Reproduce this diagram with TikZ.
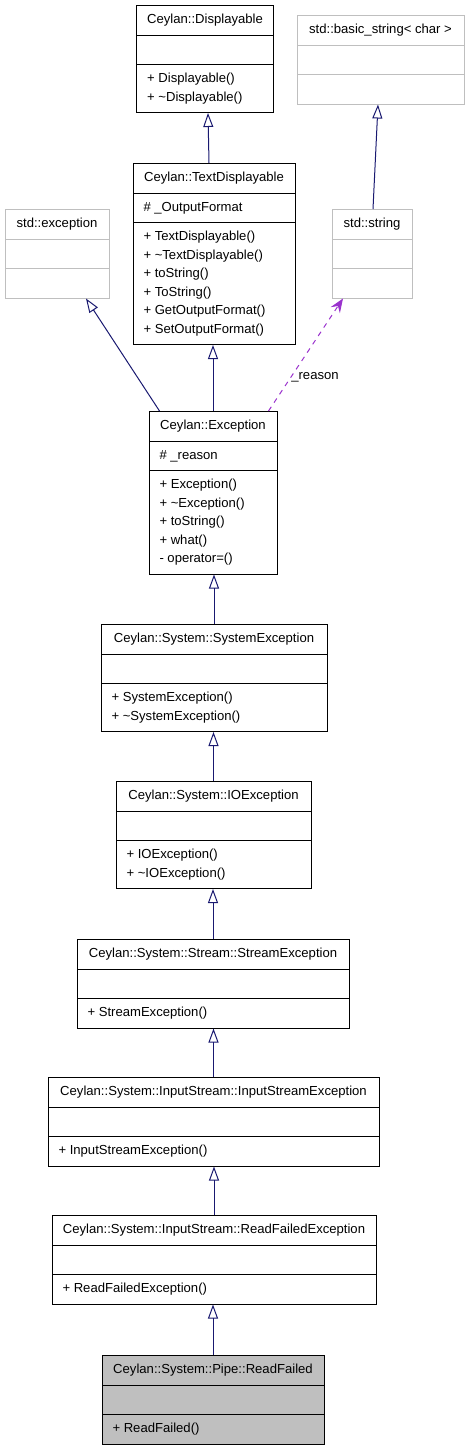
\documentclass[tikz,border=0pt]{standalone}
\usepackage{fontspec}
\setmainfont{Liberation Sans}
\usetikzlibrary{shapes.multipart,arrows.meta}
\definecolor{dxgray}{HTML}{BFBFBF}
\definecolor{dxblue}{HTML}{191970}
\definecolor{dxpurple}{HTML}{9A32CD}

\begin{document}
\begin{tikzpicture}[x=1pt,y=-1pt,font=\fontsize{13.1}{18.5}\selectfont,
 cls/.style={draw,line width=1pt,rectangle split,rectangle split parts=3,
  rectangle split part align={center,left,left},align=left,anchor=north,
  inner xsep=10.5pt,inner ysep=5pt},
 ext/.style={cls,draw=dxgray},
 inherit/.style={-{Triangle[open,length=14pt,width=10pt]},dxblue,line width=1pt},
 usage/.style={-{Stealth[length=14pt,width=11pt,inset=5pt]},dxpurple,line width=1pt,
  dash pattern=on 5pt off 5pt}]
 \useasboundingbox (0,0) rectangle (468,1448);

 % base classes
 \node[cls,minimum width=136pt] (displayable) at (205,5)
  {\strut Ceylan::Displayable\nodepart{second}\strut
   \nodepart{third}\strut+ Displayable()\\+ \textasciitilde Displayable()\strut};
 \node[ext,minimum width=167pt] (basicstr) at (380.5,15)
  {\strut std::basic\_string< char >\nodepart{second}\strut\nodepart{third}\strut};
 \node[cls,minimum width=162pt] (textdisp) at (214,163)
  {\strut Ceylan::TextDisplayable\nodepart{second}\strut\# \_OutputFormat
   \nodepart{third}\strut+ TextDisplayable()\\+ \textasciitilde TextDisplayable()\\+ toString()\\
   + ToString()\\+ GetOutputFormat()\\+ SetOutputFormat()\strut};
 \node[ext,minimum width=104pt] (stdexc) at (57,209)
  {\strut std::exception\nodepart{second}\strut\nodepart{third}\strut};
 \node[ext,minimum width=80pt] (stdstr) at (372,209)
  {\strut std::string\nodepart{second}\strut\nodepart{third}\strut};

 % exception chain
 \node[cls,minimum width=128pt] (exc) at (213,411)
  {\strut Ceylan::Exception\nodepart{second}\strut\# \_reason
   \nodepart{third}\strut+ Exception()\\+ \textasciitilde Exception()\\+ toString()\\
   + what()\\- operator=()\strut};
 \node[cls,minimum width=226pt] (sysexc) at (214,624)
  {\strut Ceylan::System::SystemException\nodepart{second}\strut
   \nodepart{third}\strut+ SystemException()\\+ \textasciitilde SystemException()\strut};
 \node[cls,minimum width=195pt] (ioexc) at (213.5,781)
  {\strut Ceylan::System::IOException\nodepart{second}\strut
   \nodepart{third}\strut+ IOException()\\+ \textasciitilde IOException()\strut};
 \node[cls,minimum width=272pt] (streamexc) at (213,939)
  {\strut Ceylan::System::Stream::StreamException\nodepart{second}\strut
   \nodepart{third}\strut+ StreamException()};
 \node[cls,minimum width=331pt] (instreamexc) at (213.5,1077)
  {\strut Ceylan::System::InputStream::InputStreamException\nodepart{second}\strut
   \nodepart{third}\strut+ InputStreamException()};
 \node[cls,minimum width=324pt] (rfexc) at (214,1215)
  {\strut Ceylan::System::InputStream::ReadFailedException\nodepart{second}\strut
   \nodepart{third}\strut+ ReadFailedException()};
 \node[cls,minimum width=222pt,fill=dxgray] (readfailed) at (213,1355)
  {\strut Ceylan::System::Pipe::ReadFailed\nodepart{second}\strut
   \nodepart{third}\strut+ ReadFailed()};

 \path[inherit]
 ([xshift=-5pt]textdisp.north) edge ([xshift=3pt]displayable.south)
 ([xshift=1pt]stdstr.north) edge ([xshift=-2.5pt]basicstr.south)
 ([xshift=11pt]exc.north west) edge ([xshift=29pt]stdexc.south)
 (exc.north) edge (exc.north |- textdisp.south)
 (sysexc.north) edge (sysexc.north |- exc.south)
 (ioexc.north) edge (ioexc.north |- sysexc.south)
 (streamexc.north) edge (streamexc.north |- ioexc.south)
 (instreamexc.north) edge (instreamexc.north |- streamexc.south)
 (rfexc.north) edge (rfexc.north |- instreamexc.south)
 (readfailed.north) edge (readfailed.north |- rfexc.south)
 ;
 \path[usage]
 ([xshift=-9pt]exc.north east) edge node[pos=0.3,anchor=west,inner sep=0pt,text=black] {\_reason}
  ([xshift=-29pt]stdstr.south)
 ;
\end{tikzpicture}
\end{document}
